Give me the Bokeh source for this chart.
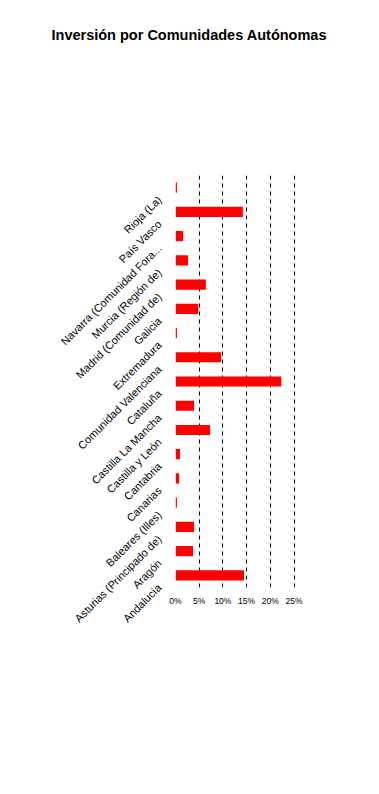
import math
from bokeh.plotting import figure
from bokeh.models import Range1d, LinearAxis, FixedTicker, ColumnDataSource, Title
from bokeh.embed import file_html
from bokeh.resources import INLINE

# Categories listed top to bottom as in the chart
regions = [
    "Rioja (La)", "País Vasco", "Navarra (Comunidad Fora...", "Murcia (Región de)",
    "Madrid (Comunidad de)", "Galicia", "Extremadura", "Comunidad Valenciana",
    "Cataluña", "Castilla La Mancha", "Castilla y León", "Cantabria", "Canarias",
    "Baleares (Illes)", "Asturias (Principado de)", "Aragón", "Andalucía",
]
investment_pct = [
    0.3, 14.2, 1.6, 2.65, 6.4, 4.8, 0.3, 9.6,
    22.3, 3.9, 7.3, 0.95, 0.75, 0.3, 3.9, 3.7, 14.45,
]
x_ticks = [0, 5, 10, 15, 20, 25]
x_tick_labels = ["0%", "5%", "10%", "15%", "20%", "25%"]
title_text = "Inversión por Comunidades Autónomas"

cats_bottom_up = list(reversed(regions))
vals_bottom_up = list(reversed(investment_pct))
n = len(cats_bottom_up)
pos = list(range(n))

src = ColumnDataSource(dict(region=cats_bottom_up, value=vals_bottom_up, pos=pos))

BL, BT, FW, FH = 175, 175, 128, 412
W, H = 363, 778

p = figure(
    width=W, height=H,
    y_range=Range1d(-0.5, n - 0.5),
    x_range=Range1d(0, 27),
    output_backend="svg", toolbar_location=None,
    y_axis_location=None,
    min_border_left=BL, min_border_right=W - BL - FW,
    min_border_top=BT, min_border_bottom=H - BT - FH,
)
p.outline_line_color = None
p.background_fill_color = "white"
p.border_fill_color = "white"

p.hbar(y="pos", right="value", left=0, height=0.42, source=src,
       fill_color="#ff0000", line_color=None)

# spacer panel between frame and title, then the title itself
spacer = Title(text=" ", text_font_size="1px", standoff=130)
p.add_layout(spacer, "above")
main_title = Title(
    text=title_text, align="left", offset=-124, standoff=0,
    text_font="Liberation Sans", text_font_size="14.5px",
    text_font_style="bold", text_color="#000000",
)
p.add_layout(main_title, "above")

# x axis
p.xaxis.ticker = FixedTicker(ticks=x_ticks)
p.xaxis.major_label_overrides = {t: l for t, l in zip(x_ticks, x_tick_labels)}
p.xaxis.axis_line_color = None
p.xaxis.major_tick_line_color = None
p.xaxis.minor_tick_line_color = None
p.xaxis.major_tick_out = 0
p.xaxis.major_label_text_font = "Liberation Sans"
p.xaxis.major_label_text_font_size = "8.5px"
p.xaxis.major_label_text_color = "#000000"
p.xaxis.major_label_standoff = 8

p.xgrid.ticker = FixedTicker(ticks=x_ticks)
p.xgrid.grid_line_color = "#000000"
p.xgrid.grid_line_dash = "4 4"
p.xgrid.grid_line_width = 1
p.ygrid.grid_line_color = None

# rotated category labels on a shifted auxiliary range
shift = 0.42
p.extra_y_ranges = {"labels": Range1d(-0.5 + shift, n - 0.5 + shift)}
lab_axis = LinearAxis(
    y_range_name="labels",
    ticker=FixedTicker(ticks=pos),
    major_label_overrides={i: c for i, c in zip(pos, cats_bottom_up)},
    major_label_orientation=math.pi / 4,
    axis_line_color=None,
    major_tick_line_color=None,
    minor_tick_line_color=None,
    major_tick_out=0,
    major_label_text_font="Liberation Sans",
    major_label_text_font_size="11px",
    major_label_text_color="#000000",
    major_label_standoff=16,
)
p.add_layout(lab_axis, "left")

open("out.html", "w").write(file_html(p, INLINE))
